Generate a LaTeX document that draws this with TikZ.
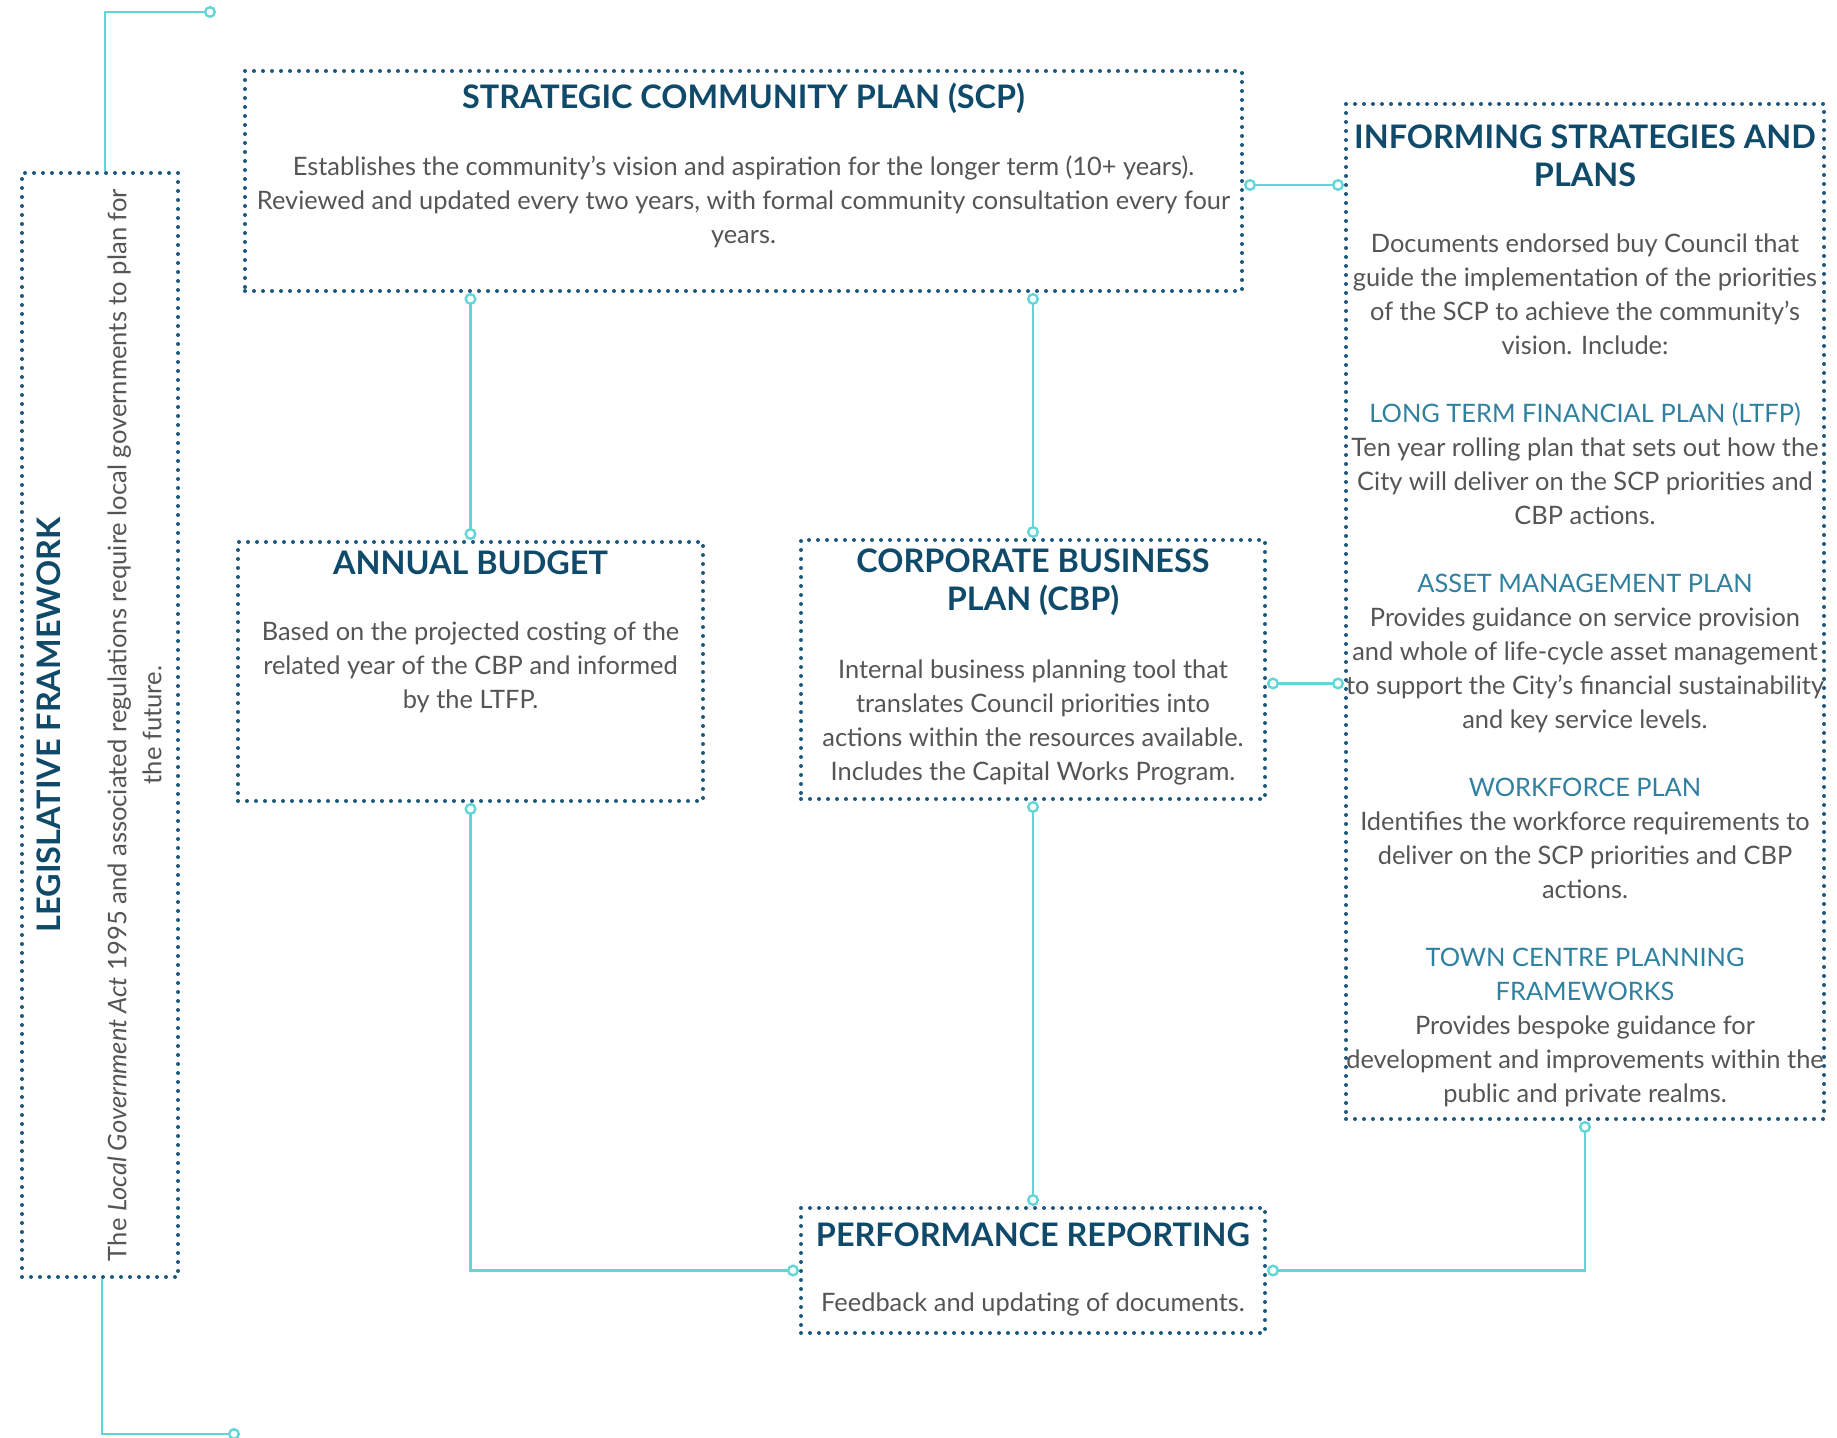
\documentclass[tikz,border=0pt]{standalone}
\usepackage{fontspec}
\setmainfont{Lato}
\usetikzlibrary{arrows.meta}
\definecolor{dotblue}{RGB}{30,88,125}
\definecolor{headblue}{RGB}{16,74,106}
\definecolor{subblue}{RGB}{48,128,160}
\definecolor{bodygrey}{RGB}{85,85,85}
\definecolor{linkteal}{RGB}{98,214,214}
\tikzset{ringtip/.tip={Circle[fill=white, length=6pt]}}

\begin{document}
\begin{tikzpicture}[x=0.5pt,y=-0.5pt,
	frame/.style={draw=dotblue, line width=2pt, dash pattern=on 0pt off 4.5pt, line cap=round, inner sep=0pt},
	head/.style={font=\fontsize{16.2}{19}\selectfont\bfseries, text=headblue, align=center, inner sep=0pt},
	body/.style={font=\fontsize{12.7}{17}\selectfont, text=bodygrey, align=center, inner sep=0pt},
	link/.style={draw=linkteal, line width=1.2pt, ringtip-ringtip}]
		\useasboundingbox (0,0) rectangle (1837,1438);
		% boxes
		\node[frame, minimum width=78pt, minimum height=552pt] (legis) at (100,725) {};
		\node[frame, minimum width=498.5pt, minimum height=110pt] (scp) at (743.5,181) {};
		\node[frame, minimum width=232.5pt, minimum height=129.5pt] (budget) at (470.5,671.5) {};
		\node[frame, minimum width=232pt, minimum height=129.5pt] (cbp) at (1033,669.5) {};
		\node[frame, minimum width=239pt, minimum height=507.5pt] (info) at (1585,611.5) {};
		\node[frame, minimum width=232pt, minimum height=62.5pt] (perf) at (1033,1270.5) {};
		% texts
		\node[head, rotate=90] (legis-head) at (49,725) {LEGISLATIVE FRAMEWORK};
		\node[body, rotate=90, font=\fontsize{12.8}{17.5}\selectfont] (legis-text) at (134.5,725) {The \textit{Local Government Act} 1995 and associated regulations require local governments to plan for\\ the future.};
		\node[head] (scp-head) at (743.5,98) {STRATEGIC COMMUNITY PLAN (SCP)};
		\node[body] (scp-text) at (743.5,201.5) {Establishes the community’s vision and aspiration for the longer term (10+ years).\\ Reviewed and updated every two years, with formal community consultation every four\\ years.};
		\node[head] (budget-head) at (470.5,563) {ANNUAL BUDGET};
		\node[body] (budget-text) at (470.5,667.5) {Based on the projected costing of the\\ related year of the CBP and informed\\ by the LTFP.};
		\node[head] (cbp-head) at (1033,582.5) {CORPORATE BUSINESS\\ PLAN (CBP)};
		\node[body] (cbp-text) at (1033,722) {Internal business planning tool that\\ translates Council priorities into\\ actions within the resources available.\\ Includes the Capital Works Program.};
		\node[head] (perf-head) at (1033,1235) {PERFORMANCE REPORTING};
		\node[body] (perf-text) at (1033,1304) {Feedback and updating of documents.};
		\node[head] (info-head) at (1585,156) {INFORMING STRATEGIES AND\\ PLANS};
		\node[body] (info-text) at (1585,670.5) {Documents endorsed buy Council that\\ guide the implementation of the priorities\\ of the SCP to achieve the community’s\\ vision. Include:\\[17pt]
			{\color{subblue}LONG TERM FINANCIAL PLAN (LTFP)}\\ Ten year rolling plan that sets out how the\\ City will deliver on the SCP priorities and\\ CBP actions.\\[17pt]
			{\color{subblue}ASSET MANAGEMENT PLAN}\\ Provides guidance on service provision\\ and whole of life-cycle asset management\\ to support the City’s financial sustainability\\ and key service levels.\\[17pt]
			{\color{subblue}WORKFORCE PLAN}\\ Identifies the workforce requirements to\\ deliver on the SCP priorities and CBP\\ actions.\\[17pt]
			{\color{subblue}TOWN CENTRE PLANNING}\\ {\color{subblue}FRAMEWORKS}\\ Provides bespoke guidance for\\ development and improvements within the\\ public and private realms.};
		% connectors
		\draw[link] (scp.south -| budget.north) -- (budget.north);
		\draw[link] (scp.south -| cbp.north) -- (cbp.north);
		\draw[link] ([yshift=-2pt]scp.east) -- ([yshift=-2pt]scp.east -| info.west);
		\draw[link] ([yshift=-7pt]cbp.east) -- ([yshift=-7pt]cbp.east -| info.west);
		\draw[link] (cbp.south) -- (perf.north);
		\draw[link] (budget.south) |- (perf.west);
		\draw[link] (info.south) |- (perf.east);
		\coordinate (law-top) at (216,12);
		\coordinate (law-end) at (240,1434);
		\draw[link, -ringtip] ([xshift=2.5pt]legis.north) |- (law-top);
		\draw[link, -ringtip] ([xshift=1pt]legis.south) |- (law-end);
\end{tikzpicture}
\end{document}
